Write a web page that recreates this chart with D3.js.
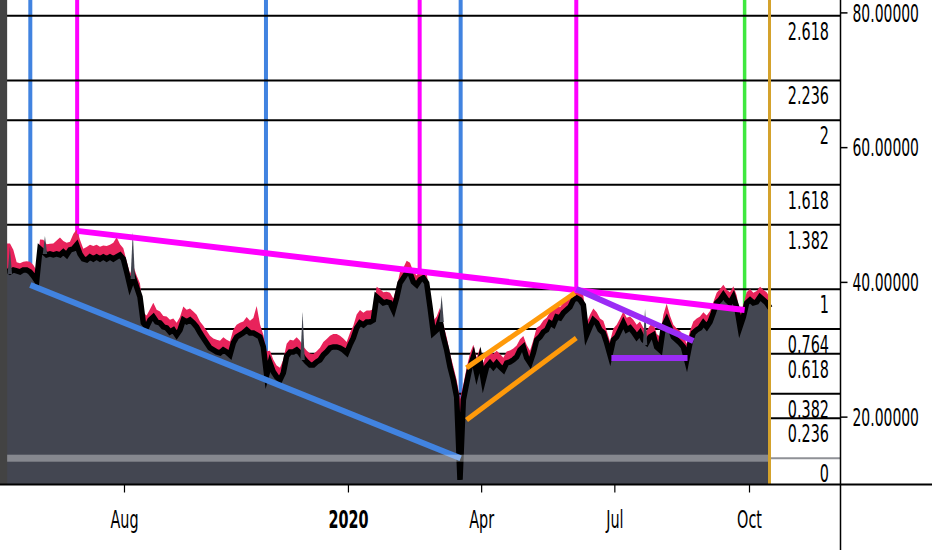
<!DOCTYPE html>
<html><head><meta charset="utf-8">
<script src="https://cdn.jsdelivr.net/npm/d3@7"></script>
<style>
html,body{margin:0;padding:0;background:#fff;overflow:hidden;}
svg{display:block;}
text{font-family:"DejaVu Sans Condensed","DejaVu Sans",sans-serif;font-stretch:condensed;fill:#000;}
</style></head><body>
<svg id="chart" width="932" height="550"></svg>
<script>
// ---------------- DATA ----------------
const firstDate = new Date(2019, 4, 12, 20);   // first sample
const stepDays = 2.2774;                        // sampling step (days)

const closeVals = [
41.78,41.48,41.78,41.63,41.48,41.78,41.78,41.48,40.89,40.15,
44.90,44.45,44.00,44.15,44.00,44.15,44.00,44.45,44.00,44.75,
44.90,45.49,44.15,43.41,43.26,43.71,43.41,43.71,43.41,43.71,
43.41,43.71,43.41,43.71,44.00,43.41,41.48,39.40,40.74,39.26,
37.77,33.91,33.32,34.35,34.80,34.06,33.91,33.32,33.17,32.57,
32.87,32.13,32.87,34.35,34.06,34.35,33.91,33.32,32.43,31.68,
30.94,30.20,29.90,29.61,29.46,29.90,29.61,29.16,30.94,31.83,
32.13,32.43,32.87,32.43,32.43,32.13,31.83,30.35,26.19,27.97,
26.64,25.90,25.45,26.49,29.01,29.61,29.61,29.90,29.46,28.72,
28.12,27.68,27.68,28.12,28.42,29.16,29.61,30.20,30.35,30.35,
30.20,29.90,29.46,30.65,31.68,33.17,33.91,33.61,34.06,34.06,
34.35,37.77,37.33,36.88,37.03,36.88,35.84,37.62,39.85,40.59,
41.33,41.33,40.00,39.55,40.30,40.59,39.85,36.29,32.43,32.87,
34.35,31.83,29.90,27.38,25.45,22.93,10.61,22.48,25.00,27.38,
28.87,26.49,28.42,25.45,27.38,27.97,27.38,27.97,27.38,26.93,
27.97,28.12,28.42,28.87,29.90,30.35,28.72,27.97,29.46,31.39,
31.83,32.57,32.87,33.91,33.61,34.80,34.65,35.40,35.84,36.29,
37.33,37.62,37.33,36.58,32.13,33.32,34.35,33.91,32.87,32.43,
30.94,29.16,31.39,31.83,32.87,33.91,32.87,33.17,32.57,31.83,
32.43,31.39,30.94,31.83,32.13,30.35,29.90,33.32,34.35,33.17,
31.83,31.39,30.94,30.35,28.42,30.94,32.43,32.87,33.17,33.91,
33.32,34.06,35.40,36.88,37.33,38.07,37.33,36.88,37.77,36.29,
33.32,34.80,36.88,37.33,36.88,37.03,37.77,37.33,36.88,36.14
];

const highVals = [
45.68,45.68,44.78,42.93,42.78,42.98,43.08,42.98,42.49,41.65,
46.30,46.25,45.60,45.65,45.70,46.15,46.60,46.05,45.80,45.95,
47.10,47.79,46.25,44.91,45.16,45.51,45.31,45.51,45.21,45.41,
45.31,45.51,45.81,46.61,45.60,45.01,43.08,41.20,42.34,40.96,
39.77,35.41,35.02,35.95,36.90,35.86,35.61,34.92,34.87,34.37,
34.57,33.93,34.77,36.35,35.86,36.05,35.61,35.12,34.13,33.48,
32.74,32.00,31.60,31.41,31.26,31.80,31.41,31.16,32.94,33.63,
33.93,34.13,34.77,34.23,34.63,36.43,33.73,32.15,29.69,29.77,
28.44,27.60,27.25,28.49,30.81,31.41,31.31,31.80,31.26,30.42,
29.82,29.38,29.28,29.72,30.22,31.06,31.51,32.00,32.25,32.25,
32.00,31.60,31.06,32.45,33.48,35.17,35.81,35.41,35.76,35.76,
35.95,39.27,38.93,38.48,38.53,38.38,37.54,39.22,41.45,42.09,
43.13,42.83,41.50,40.95,41.70,41.79,41.25,38.09,34.23,34.87,
36.15,33.63,31.80,29.38,27.45,25.43,22.61,24.78,27.30,29.38,
30.67,28.69,30.22,27.95,29.38,29.77,29.28,29.77,29.28,28.73,
29.67,29.82,30.12,30.57,31.50,31.95,30.62,29.77,31.36,33.19,
33.53,34.27,34.67,35.51,36.21,36.50,36.25,36.90,37.44,37.79,
38.83,39.12,38.73,37.98,33.93,35.12,36.05,35.51,34.57,34.23,
32.74,31.16,33.09,33.63,34.57,35.61,34.67,34.87,34.37,33.63,
34.13,33.19,32.74,33.53,33.93,32.25,31.90,35.12,36.75,34.97,
33.63,33.09,32.74,32.05,30.82,32.74,34.13,34.57,34.87,35.51,
35.02,35.66,37.00,38.38,38.93,39.57,38.83,38.48,39.37,37.99,
35.22,36.60,38.48,38.93,38.38,38.63,39.27,38.83,38.48,37.64
];

// occasional thin gray wicks rising above the close line
const wickDates = ["2019-05-15","2019-06-08","2019-08-07","2019-12-01","2020-03-05","2020-07-22"];
const wickVals  = [45.2, 46.8, 47.4, 35.6, 38.0, 36.0];

const xTickDates  = ["2019-08-01","2020-01-01","2020-04-01","2020-07-01","2020-10-01"];
const xTickLabels = ["Aug","2020","Apr","Jul","Oct"];
const yTickValues = [20, 40, 60, 80];

const fibLevels = [0, 0.236, 0.382, 0.618, 0.764, 1, 1.382, 1.618, 2, 2.236, 2.618];
const fibLow = 13.83;
const fibHigh = 38.91;

const markDates  = ["2019-05-29","2019-06-30","2019-11-06","2020-02-19","2020-03-18","2020-06-05","2020-09-28"];
const markKinds  = ["blue","magenta","blue","magenta","blue","magenta","green"];
const endMarkDate = "2020-10-15";

const trendStartDates = ["2019-05-29","2019-06-30","2020-06-05","2020-06-29","2020-03-22","2020-03-22"];
const trendStartVals  = [39.55, 47.57, 38.96, 28.72, 27.23, 19.51];
const trendEndDates   = ["2020-03-18","2020-09-28","2020-08-24","2020-08-20","2020-06-04","2020-06-05"];
const trendEndVals    = [13.83, 35.84, 31.24, 28.72, 38.36, 31.68];
const trendKinds      = ["blue","magenta","purple","purple","orange","orange"];

// ---------------- STYLE ----------------
const colors = {
  blue: "#4183e0", magenta: "#ff00ff", green: "#3fe83f", purple: "#9b2cf5",
  orange: "#ff9a0a", gold: "#d4a22c", red: "#e8235b", area: "#434651"
};

// ---------------- CHART ----------------
const W = 932, H = 550;
const plotLeft = 5, plotRight = 840, plotBottom = 484;
const parse = d3.timeParse("%Y-%m-%d");
const svg = d3.select("#chart");

const x = d3.scaleTime()
  .domain([new Date(2019, 4, 11, 17), new Date(2020, 11, 2, 4)])
  .range([plotLeft, plotRight]);
const y = d3.scaleLinear().domain([10, 81.84]).range([plotBottom, 0]);

const dayMs = 86400000;
const data = closeVals.map((c, i) => ({
  date: new Date(firstDate.getTime() + i * stepDays * dayMs),
  close: c, high: highVals[i]
}));

svg.append("defs").append("clipPath").attr("id", "plotclip")
  .append("rect").attr("x", plotLeft).attr("y", 0)
  .attr("width", plotRight - plotLeft).attr("height", plotBottom);

const plot = svg.append("g").attr("clip-path", "url(#plotclip)");

// vertical marks (behind data)
plot.selectAll("line.vmark").data(markDates).join("line")
  .attr("class", "vmark")
  .attr("x1", d => x(parse(d))).attr("x2", d => x(parse(d)))
  .attr("y1", 0).attr("y2", plotBottom)
  .attr("stroke", (d, i) => colors[markKinds[i]])
  .attr("stroke-width", (d, i) => markKinds[i] === "green" ? 3.5 : 4);

// fib levels
const fibVal = f => fibLow + f * (fibHigh - fibLow);
plot.selectAll("line.fib").data(fibLevels).join("line")
  .attr("class", "fib")
  .attr("x1", plotLeft).attr("x2", plotRight)
  .attr("y1", d => y(fibVal(d))).attr("y2", d => y(fibVal(d)))
  .attr("stroke", d => d === 0 ? "#8f9196" : "#000")
  .attr("stroke-width", 2);

// red (high) area
plot.append("path").datum(data)
  .attr("fill", colors.red)
  .attr("d", d3.area().x(d => x(d.date)).y0(plotBottom).y1(d => y(d.high)));

// gray (close) area
plot.append("path").datum(data)
  .attr("fill", colors.area)
  .attr("d", d3.area().x(d => x(d.date)).y0(plotBottom).y1(d => y(d.close)));

// black close line
plot.append("path").datum(data)
  .attr("fill", "none").attr("stroke", "#000").attr("stroke-width", 5.5)
  .attr("stroke-linejoin", "miter").attr("stroke-miterlimit", 8)
  .attr("d", d3.line().x(d => x(d.date)).y(d => y(d.close)));

// thin gray wicks
const closeAt = dt => {
  const i = d3.bisector(d => d.date).center(data, dt);
  return data[i].close;
};
plot.selectAll("path.wick").data(wickDates).join("path")
  .attr("class", "wick")
  .attr("fill", colors.area)
  .attr("d", (d, i) => {
    const dt = parse(d), cx = x(dt);
    return `M${cx - 2.2},${y(closeAt(dt)) + 2}L${cx},${y(wickVals[i])}L${cx + 2.2},${y(closeAt(dt)) + 2}Z`;
  });

// trend lines
plot.selectAll("line.trend").data(trendKinds).join("line")
  .attr("class", "trend")
  .attr("x1", (d, i) => x(parse(trendStartDates[i])))
  .attr("y1", (d, i) => y(trendStartVals[i]))
  .attr("x2", (d, i) => x(parse(trendEndDates[i])))
  .attr("y2", (d, i) => y(trendEndVals[i]))
  .attr("stroke", d => colors[d])
  .attr("stroke-width", (d) => d === "orange" ? 5 : 6);

// level-0 band
const endX = x(parse(endMarkDate));
plot.append("rect")
  .attr("x", plotLeft).attr("width", endX - plotLeft)
  .attr("y", y(fibLow) - 3.5).attr("height", 7)
  .attr("fill", "rgba(255,255,255,0.36)");

// golden end mark
plot.append("line")
  .attr("x1", endX).attr("x2", endX).attr("y1", 0).attr("y2", plotBottom)
  .attr("stroke", colors.gold).attr("stroke-width", 3);

// left border strip
svg.append("rect").attr("x", 0).attr("y", 0).attr("width", x(data[0].date) + 0.5).attr("height", plotBottom)
  .attr("fill", "#434343");

// fib labels
const scaleY = 1.55;
svg.selectAll("text.fibl").data(fibLevels).join("text")
  .attr("class", "fibl")
  .attr("transform", d => `translate(829,${y(fibVal(d))}) scale(1,${scaleY})`)
  .attr("y", 24 / scaleY)
  .attr("text-anchor", "end")
  .attr("font-size", 16)
  .text(d => String(d));

// axes lines
svg.append("line").attr("x1", 0).attr("x2", W).attr("y1", plotBottom + 0.5).attr("y2", plotBottom + 0.5)
  .attr("stroke", "#000").attr("stroke-width", 2);
svg.append("line").attr("x1", plotRight + 0.5).attr("x2", plotRight + 0.5).attr("y1", 0).attr("y2", H)
  .attr("stroke", "#000").attr("stroke-width", 1.5);

// right axis
const yAxis = svg.append("g").attr("transform", `translate(${plotRight + 0.5},0)`)
  .call(d3.axisRight(y).tickValues(yTickValues).tickSize(7).tickFormat(d3.format(".5f")));
yAxis.select(".domain").remove();
yAxis.selectAll(".tick line").attr("stroke", "#000").attr("stroke-width", 1.5);
yAxis.selectAll(".tick text")
  .attr("x", 0).attr("y", 0)
  .attr("transform", `translate(12,0) scale(1,${scaleY})`)
  .attr("dy", "0.36em")
  .attr("font-family", null).attr("font-size", 15.5).attr("fill", "#000");

// bottom axis
const xAxis = svg.append("g").attr("transform", `translate(0,${plotBottom + 0.5})`)
  .call(d3.axisBottom(x).tickValues(xTickDates.map(parse)).tickSize(8)
    .tickFormat((d, i) => xTickLabels[i]));
xAxis.select(".domain").remove();
xAxis.selectAll(".tick line").attr("stroke", "#000").attr("stroke-width", 1.2);
xAxis.selectAll(".tick text")
  .attr("y", 0).attr("dy", null)
  .attr("transform", `translate(0,43.8) scale(1,${scaleY})`)
  .attr("font-family", null).attr("font-size", 16).attr("fill", "#000")
  .attr("font-weight", (d, i) => xTickLabels[i] === "2020" ? "bold" : null);
</script>
</body></html>
